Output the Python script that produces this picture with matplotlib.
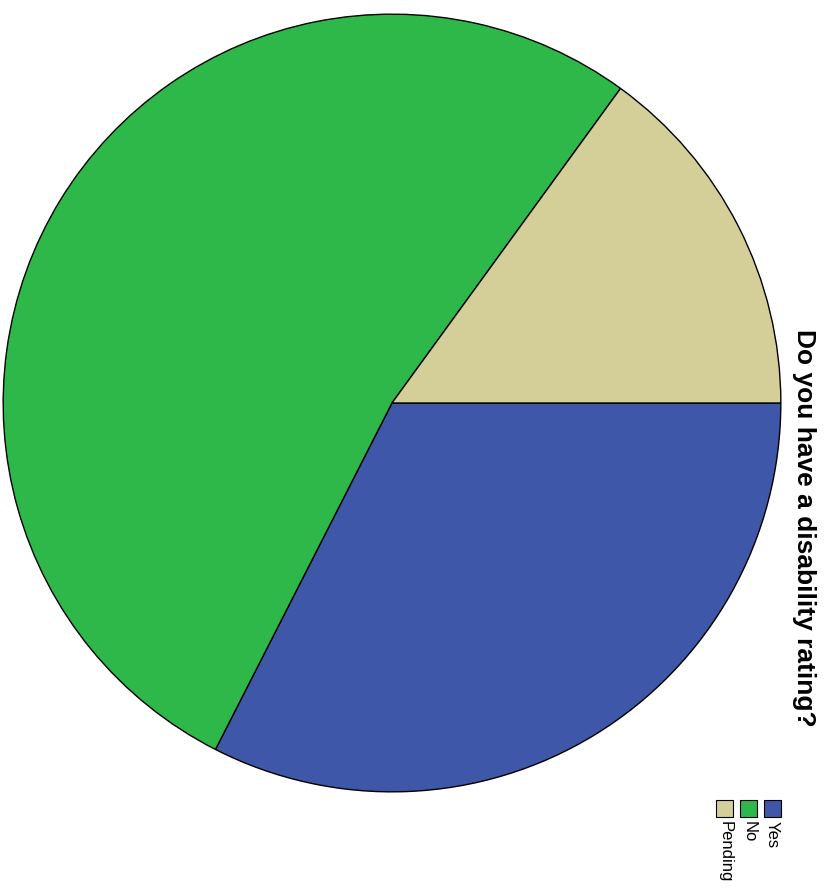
import matplotlib.pyplot as plt
from matplotlib.patches import Rectangle

# disability rating responses (counts)
labels = ["Yes", "No", "Pending"]
counts = [13, 21, 6]
colors = ["#3e57a8", "#2eb84a", "#d4ce98"]

title = "Do you have a disability rating?"

W, H = 828, 892
fig = plt.figure(figsize=(W / 100, H / 100), dpi=100)
plt.rcParams["font.family"] = ["Liberation Sans", "DejaVu Sans"]

# pie area in pixels: left, top, size
px_left, px_top, px_size = 2, 13, 780
ax = fig.add_axes([px_left / W, (H - px_top - px_size) / H, px_size / W, px_size / H])
ax.pie(counts, colors=colors, startangle=0, counterclock=False,
       wedgeprops=dict(edgecolor="black", linewidth=1.0))
ax.set_xlim(-1.003, 1.003)
ax.set_ylim(-1.003, 1.003)
ax.set_aspect("auto")
ax.axis("off")

# title drawn sideways along the right edge
fig.text(804 / W, 1 - 528 / H, title, rotation=-90, ha="center", va="center",
         fontsize=19, fontweight="bold")

# legend: swatches in a row, labels reading downward
sw = 17
for i, (lab, col) in enumerate(zip(labels, colors)):
    x = 772.5 - i * 23.75
    fig.add_artist(Rectangle(((x - sw / 2) / W, 1 - 817 / H), sw / W, sw / H,
                             transform=fig.transFigure, facecolor=col,
                             edgecolor="black", linewidth=0.8))
    fig.text(x / W, 1 - 821 / H, lab, rotation=-90, ha="center", va="top",
             fontsize=12)

fig.savefig("out.png", dpi=100)
